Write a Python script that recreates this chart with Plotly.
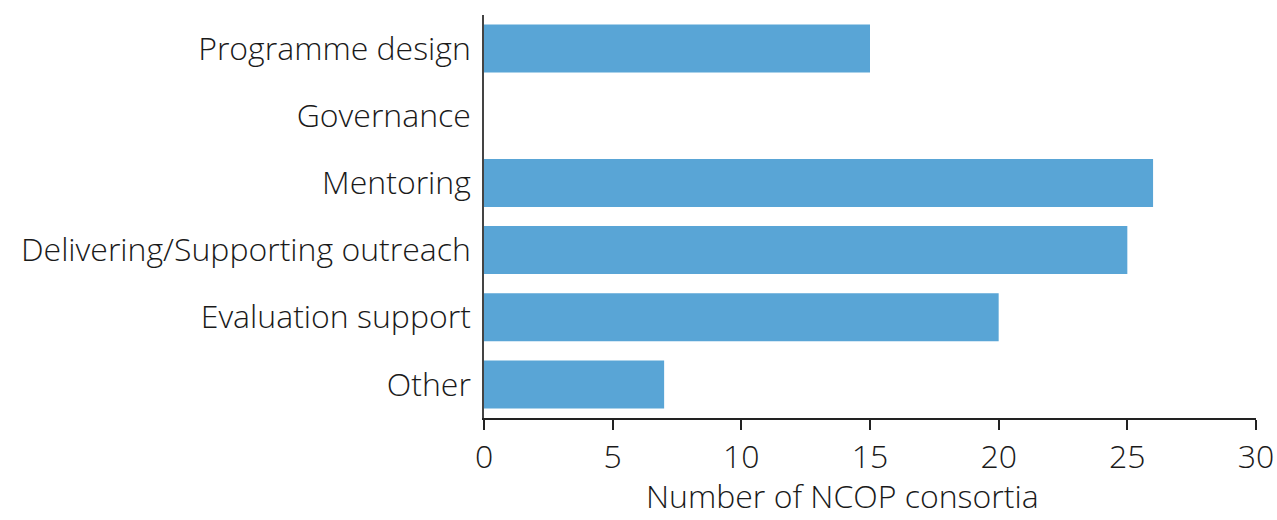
import plotly.graph_objects as go

categories = ["Programme design", "Governance", "Mentoring",
              "Delivering/Supporting outreach", "Evaluation support", "Other"]
values = [15, 0, 26, 25, 20, 7]
tick_vals = [0, 5, 10, 15, 20, 25, 30]
x_title = "Number of NCOP consortia"

fig = go.Figure(go.Bar(
    x=values, y=categories, orientation="h",
    marker=dict(color="#59a5d6", line=dict(width=0)),
))

font = dict(family="Open Sans", size=32, color="#1a1a1a", weight=300)

W, H = 1277, 520
L, T, R, B = 484, 15, 21, 102
pw = W - L - R
ph = H - T - B

fig.update_layout(
    width=W, height=H,
    margin=dict(l=L, r=R, t=T, b=B, autoexpand=False),
    plot_bgcolor="white", paper_bgcolor="white",
    bargap=0.285,
    showlegend=False,
    font=font,
)
fig.update_xaxes(
    range=[0, 30], tickvals=tick_vals, showgrid=False, zeroline=False,
    showline=True, linecolor="#222222", linewidth=1.5,
    ticks="outside", ticklen=10, tickcolor="#222222", tickwidth=1.5,
    tickfont=font, automargin=False,
)
fig.update_yaxes(
    autorange="reversed", showgrid=False, zeroline=False,
    showline=True, linecolor="#444444", linewidth=1.5,
    ticks="", ticklabelstandoff=5, tickfont=font, automargin=False,
)
fig.add_annotation(
    text=x_title, xref="paper", yref="paper",
    x=(842 - L) / pw, y=-(B - 1) / ph,
    xanchor="center", yanchor="bottom", showarrow=False, font=font,
)

fig.write_html("out.html",
               config={"displayModeBar": False},
               post_script="document.body.style.margin='0';document.body.style.overflow='hidden';")
